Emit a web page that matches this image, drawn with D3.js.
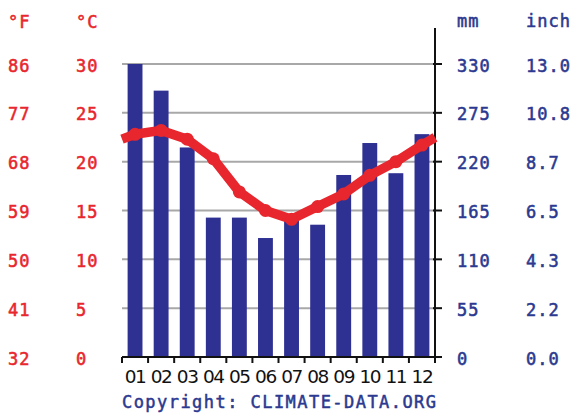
<!DOCTYPE html>
<html><head><meta charset="utf-8">
<script src="https://cdn.jsdelivr.net/npm/d3@7"></script>
<style>
html,body{margin:0;padding:0;background:#fff;}
svg{display:block;}
</style></head>
<body>
<script>
const months = ["01","02","03","04","05","06","07","08","09","10","11","12"];
const precipMm = [330, 300, 236, 157, 157, 134, 155, 149, 205, 241, 207, 251];
const tempC = [22.8, 23.2, 22.3, 20.3, 16.9, 15.0, 14.1, 15.4, 16.7, 18.6, 20.0, 21.7];
const tempTicksC = [0, 5, 10, 15, 20, 25, 30];
const tempTicksF = ["32","41","50","59","68","77","86"];
const precipTicksMm = [0, 55, 110, 165, 220, 275, 330];
const precipTicksIn = ["0.0","2.2","4.3","6.5","8.7","10.8","13.0"];

const W = 575, H = 415;
const plot = {left: 122, right: 435, top: 64, bottom: 357};
const red = "#e8262d", blue = "#2e3192", textBlue = "#2b3990";
const mono = "'DejaVu Sans Mono', 'Liberation Mono', monospace";

const svg = d3.select("body").append("svg").attr("width", W).attr("height", H);

const x = d3.scaleBand().domain(months).range([plot.left, plot.right])
  .paddingInner(0.43).paddingOuter(0.215);
const xEdge = d3.scaleLinear().domain([0, 12]).range([plot.left, plot.right]);
const yC = d3.scaleLinear().domain([0, 30]).range([plot.bottom, plot.top]);
const yMm = d3.scaleLinear().domain([0, 330]).range([plot.bottom, plot.top]);

// gridlines
svg.append("g").selectAll("line").data(precipTicksMm.slice(1)).join("line")
  .attr("x1", plot.left).attr("x2", plot.right)
  .attr("y1", d => yMm(d)).attr("y2", d => yMm(d))
  .attr("stroke", "#a8a8a8").attr("stroke-width", 2);

// bars
svg.append("g").selectAll("rect").data(months).join("rect")
  .attr("x", d => x(d)).attr("width", x.bandwidth())
  .attr("y", (d, i) => yMm(precipMm[i]))
  .attr("height", (d, i) => yMm(0) - yMm(precipMm[i]))
  .attr("fill", blue);

// right axis
const rAxis = svg.append("g").attr("transform", `translate(${plot.right},0)`);
rAxis.append("line").attr("x1", 0).attr("x2", 0).attr("y1", 28).attr("y2", plot.bottom + 1)
  .attr("stroke", "#111").attr("stroke-width", 2);
rAxis.selectAll("line.t").data(precipTicksMm).join("line").attr("class", "t")
  .attr("x1", -2).attr("x2", 7).attr("y1", d => yMm(d)).attr("y2", d => yMm(d))
  .attr("stroke", "#111").attr("stroke-width", 2);

// bottom axis
const bAxis = svg.append("g");
bAxis.append("line").attr("x1", plot.left).attr("x2", plot.right + 1)
  .attr("y1", plot.bottom).attr("y2", plot.bottom).attr("stroke", "#111").attr("stroke-width", 2);
bAxis.selectAll("line.t").data(d3.range(13)).join("line").attr("class", "t")
  .attr("x1", d => xEdge(d)).attr("x2", d => xEdge(d))
  .attr("y1", plot.bottom).attr("y2", plot.bottom + 6)
  .attr("stroke", "#111").attr("stroke-width", 2);
bAxis.selectAll("text").data(months).join("text")
  .attr("x", d => x(d) + x.bandwidth() / 2).attr("y", 383)
  .attr("text-anchor", "middle")
  .attr("font-family", "'DejaVu Sans', Verdana, sans-serif")
  .attr("font-size", 18.5).attr("letter-spacing", -1.4).attr("fill", "#111")
  .text(d => d);

// temperature line
const wrap = (tempC[0] + tempC[11]) / 2;
const pts = [[plot.left, yC(wrap + (tempC[0]-wrap)*0.1)]]
  .concat(months.map((m, i) => [x(m) + x.bandwidth() / 2, yC(tempC[i])]))
  .concat([[plot.right, yC(wrap + (tempC[11]-wrap)*0.1 + 0.3)]]);
svg.append("path").datum(pts)
  .attr("d", d3.line())
  .attr("fill", "none").attr("stroke", red).attr("stroke-width", 9.5)
  .attr("stroke-linejoin", "round");
svg.append("g").selectAll("circle").data(months).join("circle")
  .attr("cx", d => x(d) + x.bandwidth() / 2)
  .attr("cy", (d, i) => yC(tempC[i]))
  .attr("r", 6.5).attr("fill", red);

// left labels
const lab = svg.append("g").attr("font-family", mono).attr("font-size", 17)
  .attr("letter-spacing", 1).attr("stroke-width", 0.55);
lab.append("text").attr("x", 8).attr("y", 28).attr("fill", red).attr("stroke", red).text("°F");
lab.append("text").attr("x", 76).attr("y", 28).attr("fill", red).attr("stroke", red).text("°C");
lab.selectAll("text.f").data(tempTicksC).join("text").attr("class", "f")
  .attr("x", 8).attr("y", d => yC(d) + 7.5).attr("fill", red).attr("stroke", red)
  .text((d, i) => tempTicksF[i]);
lab.selectAll("text.c").data(tempTicksC).join("text").attr("class", "c")
  .attr("x", 76).attr("y", d => yC(d) + 7.5).attr("fill", red).attr("stroke", red)
  .text(d => d);

// right labels
lab.append("text").attr("x", 457).attr("y", 27).attr("fill", textBlue).attr("stroke", textBlue).text("mm");
lab.append("text").attr("x", 526).attr("y", 27).attr("fill", textBlue).attr("stroke", textBlue).text("inch");
lab.selectAll("text.mm").data(precipTicksMm).join("text").attr("class", "mm")
  .attr("x", 457).attr("y", d => yMm(d) + 7.5).attr("fill", textBlue).attr("stroke", textBlue)
  .text(d => d);
lab.selectAll("text.in").data(precipTicksMm).join("text").attr("class", "in")
  .attr("x", 526).attr("y", d => yMm(d) + 7.5).attr("fill", textBlue).attr("stroke", textBlue)
  .text((d, i) => precipTicksIn[i]);

// copyright
svg.append("text").attr("x", 122).attr("y", 408)
  .attr("font-family", mono).attr("font-size", 17).attr("letter-spacing", 1.45)
  .attr("fill", textBlue).attr("stroke", textBlue).attr("stroke-width", 0.5)
  .text("Copyright: CLIMATE-DATA.ORG");
</script>
</body></html>
